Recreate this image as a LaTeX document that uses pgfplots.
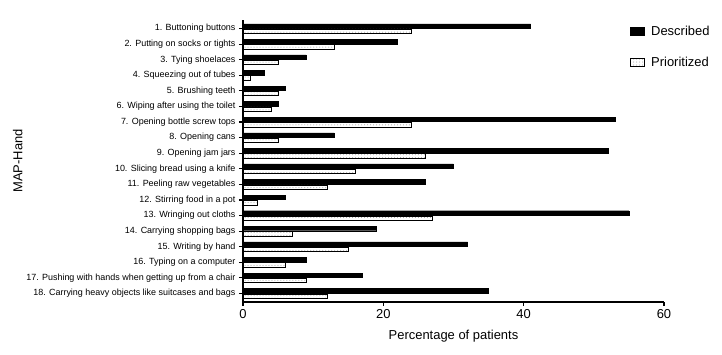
\documentclass[border=0pt]{standalone}
\usepackage{pgfplots}
\pgfplotsset{compat=1.18}
\usepackage{fontspec}
\setmainfont{Liberation Sans}
\usetikzlibrary{patterns}
\begin{document}
\begin{tikzpicture}
\useasboundingbox (-243bp,-53bp) rectangle (479bp,302bp);
\begin{axis}[
  at={(0,0)}, anchor=south west,
  scale only axis, width=421bp, height=282bp,
  xbar, y dir=reverse,
  xmin=0, xmax=60, ymin=0.45, ymax=18.55,
  axis lines=left, axis line style={line width=1.6pt, -},
  xtick={0,20,40,60}, ytick={1,...,18},
  yticklabels={1. Buttoning buttons,2. Putting on socks or tights,3. Tying shoelaces,4. Squeezing out of tubes,5. Brushing teeth,6. Wiping after using the toilet,7. Opening bottle screw tops,8. Opening cans,9. Opening jam jars,10. Slicing bread using a knife,11. Peeling raw vegetables,12. Stirring food in a pot,13. Wringing out cloths,14. Carrying shopping bags,15. Writing by hand,16. Typing on a computer,17. Pushing with hands when getting up from a chair,18. Carrying heavy objects like suitcases and bags},
  yticklabel style={font=\fontsize{9}{10}\selectfont},
  xticklabel style={font=\fontsize{13}{14}\selectfont},
  /pgf/number format/assume math mode=true,
  tick align=outside, major tick length=4bp,
  tick style={line width=1.2pt, black},
  xlabel={Percentage of patients}, ylabel={MAP-Hand},
  xlabel style={font=\fontsize{13}{15}\selectfont, at={(axis description cs:0.5,-0.12)}, anchor=center},
  ylabel style={font=\fontsize{13}{15}\selectfont, at={(axis description cs:-0.535,0.5)}, anchor=center},
  bar width=4.4bp,
  legend style={draw=none, fill=none, at={(axis cs:54.8,0.55)}, anchor=north west,
    font=\fontsize{13}{15}\selectfont, row sep=16bp, inner sep=2bp,
    /tikz/every odd column/.append style={column sep=5bp}},
  legend cell align=left,
  legend image code/.code={\draw[#1, line width=0.5pt] (0bp,-4bp) rectangle (14bp,4bp);},
]
\addplot[draw=black, fill=black, bar shift=2.6bp] coordinates {
(41,1) (22,2) (9,3) (3,4) (6,5) (5,6) (53,7) (13,8) (52,9) (30,10) (26,11) (6,12) (55,13) (19,14) (32,15) (9,16) (17,17) (35,18)};
\addlegendentry{Described}
\addplot[draw=black, line width=0.5pt, pattern=dots, pattern color=gray!80, bar shift=-2.6bp] coordinates {
(24,1) (13,2) (5,3) (1,4) (5,5) (4,6) (24,7) (5,8) (26,9) (16,10) (12,11) (2,12) (27,13) (7,14) (15,15) (6,16) (9,17) (12,18)};
\addlegendentry{Prioritized}
\end{axis}
\end{tikzpicture}
\end{document}
